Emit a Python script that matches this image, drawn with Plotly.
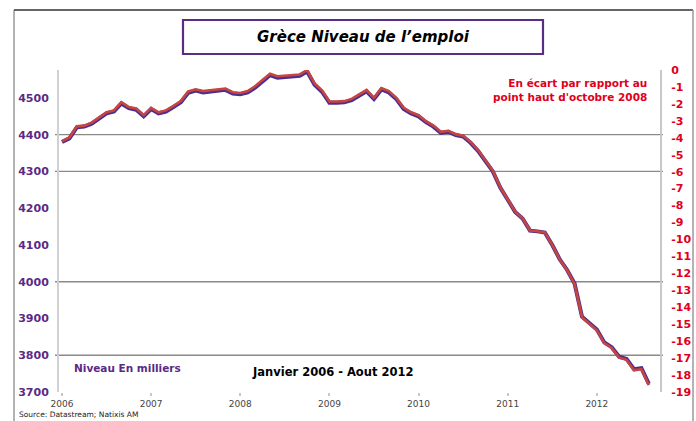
import plotly.graph_objects as go

# Monthly employment level (thousands), Jan 2006 - Aug 2012
months_idx = list(range(80))
niveau = [
    4380, 4390, 4420, 4422, 4430, 4445, 4458, 4463, 4485, 4472, 4468, 4450,
    4470, 4458, 4463, 4475, 4488, 4514, 4520, 4515, 4518, 4520, 4522, 4512,
    4510, 4515, 4528, 4545, 4562, 4555, 4556, 4558, 4560, 4572, 4536, 4517,
    4487, 4487, 4488, 4494, 4506, 4518, 4497, 4523, 4515, 4497, 4470, 4458,
    4450, 4434, 4422, 4405, 4408, 4399, 4395, 4378, 4356, 4327, 4300, 4256,
    4222, 4190, 4172, 4139, 4137, 4134, 4100, 4061, 4032, 3995, 3905, 3888,
    3870, 3835, 3822, 3796, 3790, 3762, 3765, 3722,
]
peak = max(niveau)
ecart = [(v / peak - 1) * 100 for v in niveau]

year_tickvals = [0, 12, 24, 36, 48, 60, 72]
year_labels = ["2006", "2007", "2008", "2009", "2010", "2011", "2012"]
left_ticks = [3700, 3800, 3900, 4000, 4100, 4200, 4300, 4400, 4500]
right_tickvals = [0, -1, -2, -3, -4, -5, -6, -7, -8, -9, -10, -11, -12, -13, -14, -15, -16, -17, -18, -19]
right_ticktext = ["0", "-1", "-2", "-3", "-4", "-5", "-6", "-7", "-8", "-9", "-10", "-11", "-12",
                  "-13", "-14", "-15", "-16", "-17", "-18", "-19"]
grid_levels = [4400, 4300, 4000, 3800]

PURPLE = "#5B2A86"
RED = "#E0001B"
FONT = "DejaVu Sans"

W, H = 696, 421
L, R, T, B = 59, 660, 70, 392


def PX(x):
    return (x - L) / (R - L)


def PY(y):
    return (B - y) / (B - T)


fig = go.Figure()
fig.add_trace(go.Scatter(x=months_idx, y=niveau, mode="lines",
                         line=dict(color="#4B2E91", width=4), yaxis="y", hoverinfo="skip"))
fig.add_trace(go.Scatter(x=months_idx, y=ecart, mode="lines",
                         line=dict(color="#C8453F", width=2.6), yaxis="y2", hoverinfo="skip"))

shapes = []
for g in grid_levels:
    shapes.append(dict(type="line", xref="paper", yref="y", x0=PX(55), x1=PX(663), y0=g, y1=g,
                       line=dict(color="#8a8a8a", width=1.3), layer="below"))
# title box
shapes.append(dict(type="rect", xref="paper", yref="paper", x0=PX(183), x1=PX(543), y0=PY(54), y1=PY(20),
                   line=dict(color="#5B2C83", width=2.2)))
# outer frame
shapes.append(dict(type="line", xref="paper", yref="paper", x0=PX(14), x1=PX(14), y0=PY(425), y1=PY(10),
                   line=dict(color="#9a9a9a", width=1.5)))
shapes.append(dict(type="line", xref="paper", yref="paper", x0=PX(14), x1=PX(693), y0=PY(10), y1=PY(10),
                   line=dict(color="#333333", width=1.5)))
shapes.append(dict(type="line", xref="paper", yref="paper", x0=PX(693), x1=PX(693), y0=PY(425), y1=PY(10),
                   line=dict(color="#9a9a9a", width=1.5)))

annotations = [
    dict(text="<b><i>Grèce Niveau de l’emploi</i></b>", xref="paper", yref="paper",
         x=PX(363), y=PY(37), showarrow=False, font=dict(family=FONT, size=15, color="black"),
         xanchor="center", yanchor="middle"),
    dict(text="<b>En écart par rapport au<br>point haut d'octobre 2008</b>", xref="paper", yref="paper",
         x=PX(649), y=PY(90), showarrow=False, align="right",
         font=dict(family=FONT, size=10.5, color=RED), xanchor="right", yanchor="middle"),
    dict(text="<b>Niveau En milliers</b>", xref="paper", yref="paper",
         x=PX(72), y=PY(368), showarrow=False, font=dict(family=FONT, size=10.5, color=PURPLE),
         xanchor="left", yanchor="middle"),
    dict(text="<b>Janvier 2006 - Aout 2012</b>", xref="paper", yref="paper",
         x=PX(250), y=PY(372), showarrow=False, font=dict(family=FONT, size=11.5, color="black"),
         xanchor="left", yanchor="middle"),
    dict(text="Source: Datastream; Natixis AM", xref="paper", yref="paper",
         x=PX(17), y=PY(421), showarrow=False, font=dict(family=FONT, size=7.5, color="#222"),
         xanchor="left", yanchor="bottom"),
]

fig.update_layout(
    width=W, height=H,
    margin=dict(l=L, r=W - R, t=T, b=H - B, autoexpand=False),
    paper_bgcolor="white", plot_bgcolor="white",
    showlegend=False,
    shapes=shapes,
    annotations=annotations,
    xaxis=dict(range=[-0.4, 80.5], tickvals=year_tickvals, ticktext=year_labels,
               showgrid=False, zeroline=False, showline=False,
               ticks="outside", ticklen=3, tickcolor="#c8c8c8", tickwidth=1.5,
               tickfont=dict(family=FONT, size=9, color="#444")),
    yaxis=dict(range=[3700, 4576], tickvals=left_ticks, showgrid=False, zeroline=False,
               showline=True, linecolor="#d0d0d0", linewidth=2,
               ticks="outside", ticklen=6, tickcolor="rgba(0,0,0,0)",
               tickfont=dict(family=FONT, size=11, color=PURPLE, weight="bold")),
    yaxis2=dict(range=[-19, 0], overlaying="y", side="right", tickvals=right_tickvals,
                ticktext=right_ticktext, showgrid=False, zeroline=False,
                showline=True, linecolor="#c8c8c8", linewidth=2,
                ticks="outside", ticklen=7, tickcolor="rgba(0,0,0,0)",
                tickfont=dict(family=FONT, size=11, color=RED, weight="bold")),
)

fig.write_html("out.html")
